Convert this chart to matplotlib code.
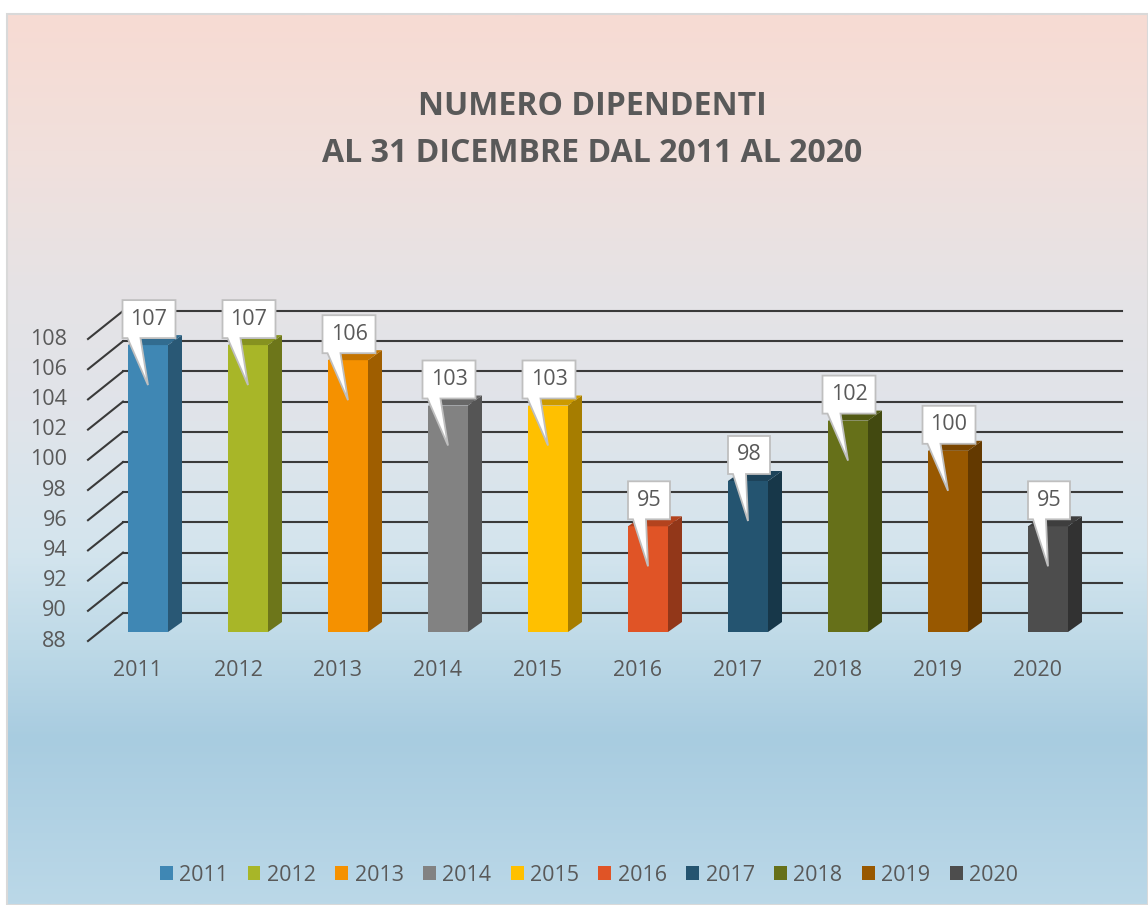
import numpy as np
import matplotlib
matplotlib.use("Agg")
import matplotlib.pyplot as plt
from matplotlib.patches import Polygon, Rectangle
from matplotlib.colors import to_rgb, LinearSegmentedColormap

plt.rcParams['font.family'] = ['Open Sans', 'DejaVu Sans']

# dati
anni = ['2011', '2012', '2013', '2014', '2015', '2016', '2017', '2018', '2019', '2020']
dipendenti = [107, 107, 106, 103, 103, 95, 98, 102, 100, 95]
tick_vals = [88, 90, 92, 94, 96, 98, 100, 102, 104, 106, 108]
colori = ['#3F87B4', '#A8B628', '#F59100', '#828282', '#FFC000',
          '#E05426', '#245470', '#667019', '#985800', '#4D4D4D']
testo = '#595959'
base = 88
fs = 15.5

W, H = 1148, 905
fig = plt.figure(figsize=(W / 100, H / 100), dpi=100)
ax = fig.add_axes([0, 0, 1, 1])

# conversione pixel -> coordinate dati (una categoria = 100 px, una unita' = 15.1 px)
def px_x(p):
    return (p - 148) / 100.0

def px_y(p):
    return base + (632 - p) / 15.1

dx_px = lambda p: p / 100.0
dy_px = lambda p: p / 15.1

# sfondo sfumato
stops = [(14, '#F7DBD3'), (150, '#F1E0DC'), (300, '#E5E3E6'), (420, '#E0E4EA'),
         (550, '#D4E5EE'), (650, '#BDD9E7'), (740, '#A8CCE0'), (905, '#BBD8E8')]
pos = [(s[0] - 14) / (905 - 14) for s in stops]
cmap = LinearSegmentedColormap.from_list('bg', list(zip(pos, [s[1] for s in stops])))
grad = np.linspace(0, 1, 400).reshape(-1, 1)
ax.imshow(grad, cmap=cmap, aspect='auto', zorder=0,
          extent=[px_x(7), px_x(W), px_y(H), px_y(14)], origin='upper')
ax.add_patch(Rectangle((px_x(7), px_y(H)), px_x(W) - px_x(7), px_y(14) - px_y(H),
                       fill=False, edgecolor='#D9D9D9', lw=1.5, zorder=0.5))

ax.set_xlim(px_x(0), px_x(W))
ax.set_ylim(px_y(H), px_y(0))
ax.axis('off')

# griglia parete di fondo + diagonali sul pavimento
back_up = dy_px(19)
front_dn = dy_px(9)
for v in tick_vals:
    ax.plot([px_x(123), px_x(1122)], [v + back_up, v + back_up], color='#3A3A3A', lw=1.5, zorder=1)
    ax.plot([px_x(88), px_x(123)], [v - front_dn, v + back_up], color='#3A3A3A', lw=1.5, zorder=1)
    ax.text(px_x(67), v - front_dn, str(v), ha='right', va='center', fontsize=fs, color=testo)

# barre 3D
x = np.arange(len(anni))
bw = 0.40
DX, DY = dx_px(14), dy_px(10)

def scurisci(c, f):
    r, g, b = to_rgb(c)
    return (r * f, g * f, b * f)

for i, (anno, v, c) in enumerate(zip(anni, dipendenti, colori)):
    ax.bar(x[i], v - base, bottom=base, width=bw, color=c, label=anno, zorder=3)
    xr = x[i] + bw / 2
    xl = x[i] - bw / 2
    ax.add_patch(Polygon([(xr, base), (xr, v), (xr + DX, v + DY), (xr + DX, base + DY)],
                         closed=True, facecolor=scurisci(c, 0.65), edgecolor='none', zorder=3))
    ax.add_patch(Polygon([(xl, v), (xr, v), (xr + DX, v + DY), (xl + DX, v + DY)],
                         closed=True, facecolor=scurisci(c, 0.8), edgecolor='none', zorder=3))
    ax.text(x[i] - dx_px(10), px_y(670), anno, ha='center', va='center', fontsize=fs, color=testo)

    # etichetta a fumetto
    lab = str(v)
    bwid = dx_px(53 if len(lab) == 3 else 42)
    cx = x[i] + dx_px(1)
    bl, br = cx - bwid / 2, cx + bwid / 2
    bb, bt = v + dy_px(7), v + dy_px(45)
    tip = (x[i], v - dy_px(40))
    pts = [(bl, bb), (bl + dx_px(5), bb), tip, (bl + dx_px(18), bb), (br, bb), (br, bt), (bl, bt)]
    ax.add_patch(Polygon(pts, closed=True, facecolor='white', edgecolor='#BFBFBF', lw=1.3, zorder=5))
    ax.text(cx, (bb + bt) / 2, lab, ha='center', va='center', fontsize=fs, color=testo, zorder=6)

# titolo
fig.text(592 / W, 1 - 106 / H, 'NUMERO DIPENDENTI', ha='center', va='center',
         fontsize=23, fontweight='bold', color=testo)
fig.text(592 / W, 1 - 153 / H, 'AL 31 DICEMBRE DAL 2011 AL 2020', ha='center', va='center',
         fontsize=23, fontweight='bold', color=testo)

# legenda
ax.legend(loc='center', bbox_to_anchor=(589 / W, 1 - 875 / H), bbox_transform=fig.transFigure,
          ncol=10, frameon=False, fontsize=fs, handlelength=0.6, handleheight=0.6,
          handletextpad=0.3, columnspacing=0.9, labelcolor=testo)

fig.savefig('out.png', dpi=100)
